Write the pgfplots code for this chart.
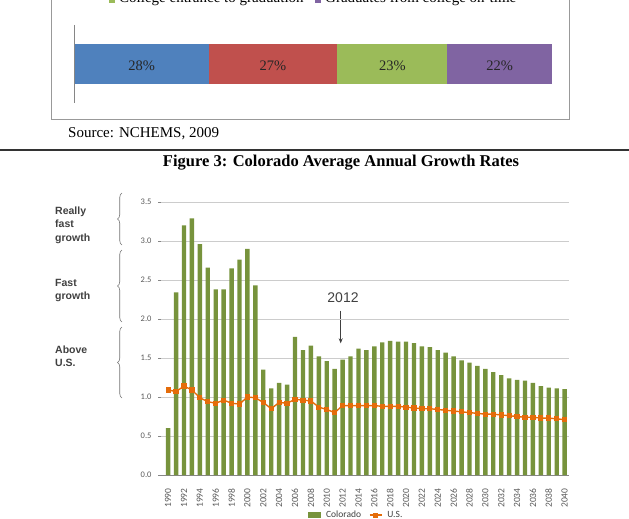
\documentclass[border=0pt]{standalone}
\usepackage{pgfplots}
\pgfplotsset{compat=1.18}
\usepackage{pgfplotstable}
\usepackage{fontspec}
\setmainfont{Liberation Serif}
\newfontfamily\calfont{Carlito}
\newfontfamily\arialfont{Liberation Sans}
\usetikzlibrary{decorations.pathreplacing,arrows.meta}
\definecolor{cogreen}{HTML}{77933C}
\definecolor{usorange}{HTML}{E46C0A}
\definecolor{xblue}{HTML}{4F81BD}
\definecolor{xred}{HTML}{C0504D}
\definecolor{xgreen}{HTML}{9BBB59}
\definecolor{xpurple}{HTML}{8064A2}
\definecolor{axgray}{HTML}{868686}
\definecolor{txgray}{HTML}{595959}
\pgfplotstableread{
year co
1990 0.60
1991 2.34
1992 3.20
1993 3.29
1994 2.96
1995 2.66
1996 2.38
1997 2.38
1998 2.65
1999 2.76
2000 2.90
2001 2.43
2002 1.35
2003 1.11
2004 1.18
2005 1.16
2006 1.77
2007 1.60
2008 1.66
2009 1.52
2010 1.46
2011 1.36
2012 1.48
2013 1.52
2014 1.62
2015 1.60
2016 1.65
2017 1.70
2018 1.72
2019 1.71
2020 1.71
2021 1.69
2022 1.65
2023 1.64
2024 1.60
2025 1.57
2026 1.52
2027 1.47
2028 1.44
2029 1.40
2030 1.36
2031 1.32
2032 1.28
2033 1.24
2034 1.22
2035 1.21
2036 1.18
2037 1.14
2038 1.12
2039 1.11
2040 1.10
}\colorado
\pgfplotstableread{
year us
1990 1.09
1991 1.07
1992 1.14
1993 1.09
1994 0.99
1995 0.94
1996 0.92
1997 0.96
1998 0.92
1999 0.91
2000 1.00
2001 0.99
2002 0.93
2003 0.85
2004 0.93
2005 0.92
2006 0.97
2007 0.96
2008 0.95
2009 0.87
2010 0.84
2011 0.80
2012 0.89
2013 0.89
2014 0.89
2015 0.89
2016 0.89
2017 0.88
2018 0.88
2019 0.88
2020 0.87
2021 0.86
2022 0.85
2023 0.85
2024 0.84
2025 0.83
2026 0.82
2027 0.81
2028 0.80
2029 0.79
2030 0.78
2031 0.78
2032 0.77
2033 0.76
2034 0.75
2035 0.74
2036 0.74
2037 0.73
2038 0.73
2039 0.72
2040 0.71
}\usdata
\begin{document}
\begin{tikzpicture}
\path[use as bounding box] (0,0) rectangle (629pt,-519pt);
\clip (0,0) rectangle (629pt,-519pt);
\begin{scope}[x=1pt,y=-1pt]
  % top figure remnants
  \fill[xgreen] (109,-3.3) rectangle (115,2.7);
  \node[anchor=base west,inner sep=0pt,font=\fontsize{15}{18}\selectfont] at (119,2.5) {College entrance to graduation};
  \fill[xpurple] (315,-3.3) rectangle (321,2.7);
  \node[anchor=base west,inner sep=0pt,font=\fontsize{15}{18}\selectfont] at (325,2.5) {Graduates from college on-time};
  \draw[black!40,line width=0.8pt] (51.7,-10) -- (51.7,119.3) -- (569,119.3) -- (569,-10);
  \draw[axgray,line width=0.8pt] (74.7,25) -- (74.7,103);
  \node[anchor=base west,inner sep=0pt,font=\fontsize{15}{18}\selectfont] at (68,137) {Source: NCHEMS, 2009};
  \draw[black!80,line width=1.3pt] (0,150) -- (629,150);
  \node[anchor=base,inner sep=0pt,font=\bfseries\fontsize{16.5}{20}\selectfont] at (341,166.5) {Figure 3: Colorado Average Annual Growth Rates};
  % left annotations
  \begin{scope}[font=\arialfont\bfseries\fontsize{10.5}{12}\selectfont, text=black!75]
    \node[anchor=base west,inner sep=0pt] at (55,214.3) {Really};
    \node[anchor=base west,inner sep=0pt] at (55,227.7) {fast};
    \node[anchor=base west,inner sep=0pt] at (55,241) {growth};
    \node[anchor=base west,inner sep=0pt] at (55,286.7) {Fast};
    \node[anchor=base west,inner sep=0pt] at (55,299.5) {growth};
    \node[anchor=base west,inner sep=0pt] at (55,353.3) {Above};
    \node[anchor=base west,inner sep=0pt] at (55,366.7) {U.S.};
  \end{scope}
  \draw[black!55,line width=0.6pt,decorate,decoration={brace,amplitude=4.5pt}] (122,245) -- (122,193);
  \draw[black!55,line width=0.6pt,decorate,decoration={brace,amplitude=4.5pt}] (122,322) -- (122,250);
  \draw[black!55,line width=0.6pt,decorate,decoration={brace,amplitude=4.5pt}] (122,398) -- (122,327);
  % 2012 annotation
  \node[font=\arialfont\fontsize{14}{16}\selectfont,text=black!75,inner sep=0pt] at (343,298) {2012};
  \draw[black!75,line width=0.8pt,-{Stealth[length=5pt,width=4pt]}] (340.7,310.7) -- (340.7,343.3);
\end{scope}
% top stacked bar
\begin{axis}[
  at={(75pt,-103pt)}, anchor=south west,
  scale only axis, width=477pt, height=78pt,
  xbar stacked, bar width=40pt,
  xmin=0, xmax=100, ymin=0, ymax=1,
  hide axis,
]
\addplot[fill=xblue,draw=none] coordinates {(28,0.5)};
\addplot[fill=xred,draw=none] coordinates {(27,0.5)};
\addplot[fill=xgreen,draw=none] coordinates {(23,0.5)};
\addplot[fill=xpurple,draw=none] coordinates {(22,0.5)};
\end{axis}
\begin{scope}[x=1pt,y=-1pt,every node/.style={anchor=base,inner sep=0pt,font=\fontsize{14.5}{17}\selectfont,text=black!85}]
  \node at (141.7,70.7) {28\%};
  \node at (272.8,70.7) {27\%};
  \node at (392.3,70.7) {23\%};
  \node at (499.7,70.7) {22\%};
\end{scope}
% main chart
\begin{axis}[
  at={(161pt,-475pt)}, anchor=south west,
  scale only axis, width=408pt, height=273pt,
  xmin=1989.1, xmax=2040.55, ymin=0, ymax=3.5,
  axis x line*=bottom, axis y line*=left,
  x axis line style={axgray, line width=0.8pt, -},
  y axis line style={draw=none, -},
  ytick={0,0.5,...,3.5},
  ymajorgrids, grid style={black!20, line width=0.7pt},
  xtick={1990,1992,...,2040},
  xtick style={draw=none},
  ytick style={draw=axgray, line width=0.6pt},
  extra x ticks={1990.5,1992.5,...,2040.5},
  extra x tick labels={},
  extra x tick style={tick style={draw=axgray, line width=0.6pt}},
  major tick length=3pt, tick align=outside,
  tick label style={text=txgray},
  xticklabel style={rotate=90, anchor=east, font=\calfont\fontsize{9.5}{10}\selectfont},
  x tick label style={/pgf/number format/1000 sep={}, /pgf/number format/assume math mode=true},
  yticklabel style={font=\calfont\fontsize{8.5}{10}\selectfont, /pgf/number format/fixed, /pgf/number format/fixed zerofill, /pgf/number format/precision=1, /pgf/number format/assume math mode=true, xshift=-3pt},
  xticklabel shift=7pt,
  legend columns=2,
  legend style={draw=none, fill=none, at={(0.479,-0.1465)}, anchor=center, font=\calfont\fontsize{9.5}{11}\selectfont, text=black!75, column sep=3pt, inner sep=0pt, /tikz/every even column/.append style={column sep=6pt}},
  legend cell align=left,
]
\addplot[ybar, bar width=4.4pt, fill=cogreen, draw=none,
  legend image code/.code={\fill[cogreen] (0pt,-3pt) rectangle (12.7pt,3pt);}] table[x=year,y=co] {\colorado};
\addlegendentry{Colorado}
\addplot[usorange, line width=1.4pt, mark=square*, mark size=1.9pt,
  legend image code/.code={\draw[usorange,line width=1.2pt] (0pt,0pt) -- (12pt,0pt); \fill[usorange] (4.2pt,-1.8pt) rectangle (7.8pt,1.8pt);}] table[x=year,y=us] {\usdata};
\addlegendentry{U.S.}
\end{axis}
\end{tikzpicture}
\end{document}
